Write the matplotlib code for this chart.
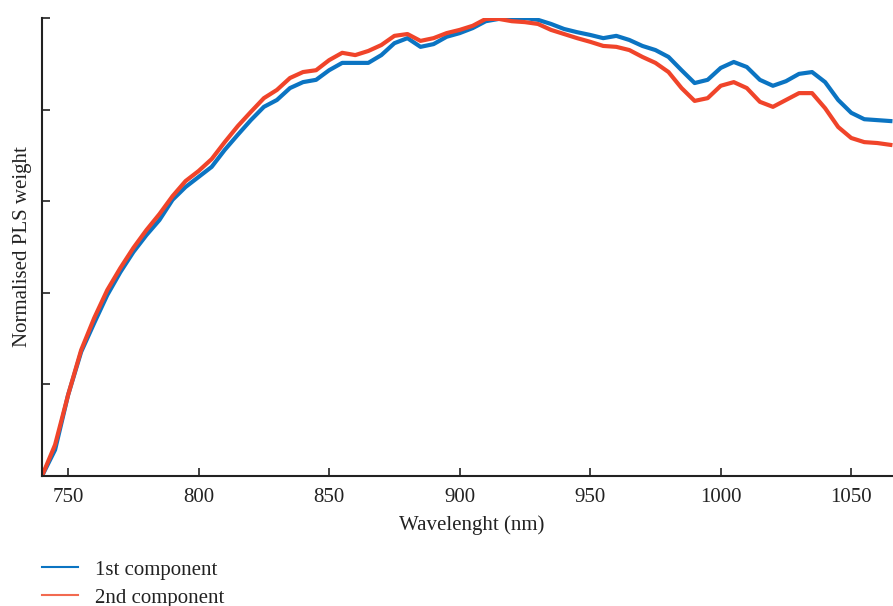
import matplotlib
matplotlib.use("Agg")
import matplotlib.pyplot as plt

wavelength = list(range(740, 1066, 5))

comp1 = [0.000, 0.057, 0.177, 0.271, 0.334, 0.395, 0.445, 0.489, 0.526, 0.559,
         0.603, 0.631, 0.653, 0.675, 0.712, 0.745, 0.777, 0.806, 0.821, 0.847,
         0.860, 0.865, 0.886, 0.902, 0.902, 0.902, 0.919, 0.945, 0.956, 0.937,
         0.943, 0.959, 0.967, 0.978, 0.993, 0.998, 0.998, 1.000, 0.996, 0.987,
         0.976, 0.969, 0.963, 0.956, 0.961, 0.952, 0.939, 0.930, 0.915, 0.886,
         0.858, 0.865, 0.891, 0.904, 0.893, 0.865, 0.852, 0.862, 0.878, 0.882,
         0.860, 0.821, 0.793, 0.779, 0.777, 0.775]

comp2 = [0.000, 0.068, 0.177, 0.275, 0.345, 0.406, 0.454, 0.498, 0.537, 0.572,
         0.611, 0.644, 0.666, 0.692, 0.729, 0.764, 0.795, 0.825, 0.843, 0.869,
         0.882, 0.886, 0.908, 0.924, 0.919, 0.928, 0.941, 0.961, 0.965, 0.950,
         0.956, 0.967, 0.974, 0.983, 0.998, 0.998, 0.993, 0.991, 0.987, 0.974,
         0.965, 0.956, 0.948, 0.939, 0.937, 0.930, 0.915, 0.902, 0.882, 0.847,
         0.819, 0.825, 0.852, 0.860, 0.847, 0.817, 0.806, 0.821, 0.836, 0.836,
         0.803, 0.762, 0.738, 0.729, 0.727, 0.723]

labels = ["1st component", "2nd component"]
xticks = [750, 800, 850, 900, 950, 1000, 1050]
yticks = [0, 0.2, 0.4, 0.6, 0.8, 1.0]

plt.rcParams['font.family'] = ['Liberation Serif', 'DejaVu Serif']

fig = plt.figure(figsize=(8.93, 6.06), dpi=100)
ax = fig.add_axes([42/893, 1-476/606, 1-42/893, (476-18)/606])

blue = '#0B74C2'
red = '#F0442A'
l1, = ax.plot(wavelength, comp1, color=blue, lw=3.0, label=labels[0])
l2, = ax.plot(wavelength, comp2, color=red, lw=3.0, label=labels[1])

ax.set_xlim(740, 1066)
ax.set_ylim(0, 1)
ax.set_xticks(xticks)
ax.set_yticks(yticks)
ax.set_yticklabels([])
ax.tick_params(direction='in', length=6, width=1.2, colors='#222222', labelsize=15, pad=9)
for s in ['top', 'right']:
    ax.spines[s].set_visible(False)
for s in ['left', 'bottom']:
    ax.spines[s].set_linewidth(1.5)
    ax.spines[s].set_color('#222222')

ax.set_xlabel("Wavelenght (nm)", fontsize=15, color='#222222')
ax.xaxis.set_label_coords((472-42)/851, -(515-476)/458)
ax.set_ylabel("Normalised PLS weight", fontsize=15, color='#222222')
ax.yaxis.set_label_coords(-(42-23)/851, 0.5)
ax.yaxis.label.set_va('center')

leg = fig.legend(handles=[l1, l2], loc='upper left', bbox_to_anchor=(42/893, 1-560/606),
                 frameon=False, fontsize=15, handlelength=1.75, handletextpad=0.8,
                 labelspacing=0.4, borderaxespad=0, borderpad=0)
lines = leg.get_lines()
lines[0].set_linewidth(1.5)
lines[1].set_linewidth(1.5)
lines[1].set_color('#F26A50')
for t in leg.get_texts():
    t.set_color('#222222')

fig.savefig("out.png", dpi=100)
